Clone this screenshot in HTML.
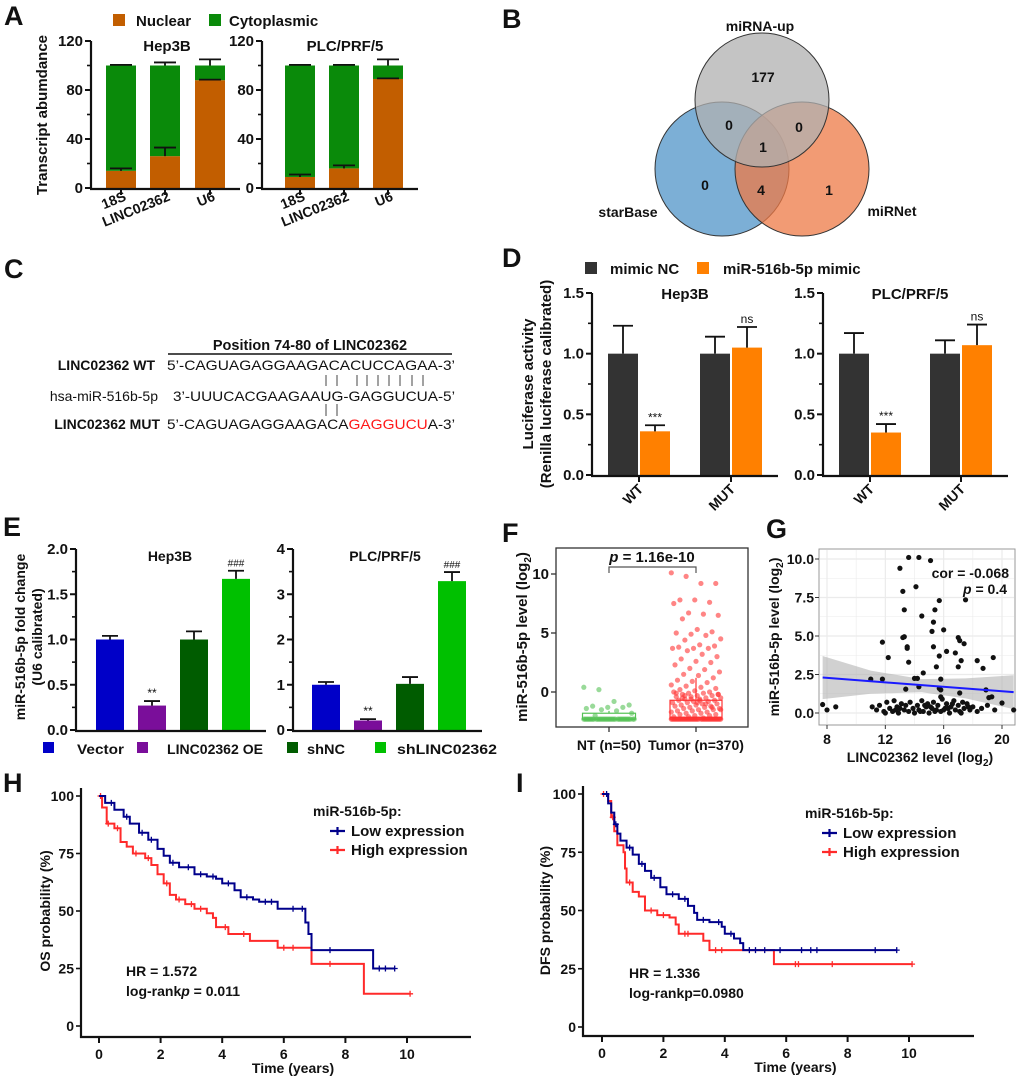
<!DOCTYPE html>
<html><head><meta charset="utf-8"><style>
html,body{margin:0;padding:0;background:#fff;}
svg{display:block;font-family:"Liberation Sans",Arial,sans-serif;}
text{font-weight:bold;fill:#111;}
</style></head><body>
<svg id="fig" width="1020" height="1077" viewBox="0 0 1020 1077">
<g font-size="27">
<text x="4" y="25">A</text>
<text x="502" y="28">B</text>
<text x="4" y="278">C</text>
<text x="502" y="267">D</text>
<text x="3" y="536">E</text>
<text x="502" y="542">F</text>
<text x="766" y="538">G</text>
<text x="3" y="792">H</text>
<text x="516" y="792">I</text>
</g>
<g stroke="#333" stroke-width="1">
<circle cx="722" cy="169" r="67" fill="#5b9bcc" fill-opacity="0.8"/>
<circle cx="802" cy="169" r="67" fill="#ee7a45" fill-opacity="0.75"/>
<circle cx="762" cy="100" r="67" fill="#b0b0b0" fill-opacity="0.75"/>
</g>
<g font-size="14" text-anchor="middle">
<text x="760" y="31">miRNA-up</text>
<text x="628" y="217">starBase</text>
<text x="892" y="216">miRNet</text>
<text x="763" y="82">177</text>
<text x="729" y="130">0</text>
<text x="799" y="132">0</text>
<text x="763" y="152">1</text>
<text x="705" y="190">0</text>
<text x="761" y="195">4</text>
<text x="829" y="195">1</text>
</g>
<g font-size="14">
<text x="310" y="350" text-anchor="middle" font-size="14.5">Position 74-80 of LINC02362</text>
<line x1="168" y1="354" x2="452" y2="354" stroke="#111" stroke-width="1.5"/>
<text x="155" y="370" text-anchor="end">LINC02362 WT</text>
<text x="158" y="401" text-anchor="end" style="font-weight:normal">hsa-miR-516b-5p</text>
<text x="160" y="429" text-anchor="end">LINC02362 MUT</text>
<text x="167" y="370" textLength="288" lengthAdjust="spacingAndGlyphs" style="font-weight:normal">5’-CAGUAGAGGAAGACACUCCAGAA-3’</text>
<text x="173" y="401" textLength="282" lengthAdjust="spacingAndGlyphs" style="font-weight:normal">3’-UUUCACGAAGAAUG-GAGGUCUA-5’</text>
<text x="167" y="429" textLength="288" lengthAdjust="spacingAndGlyphs" style="font-weight:normal">5’-CAGUAGAGGAAGACA<tspan style="fill:#ff1a1a">GAGGUCU</tspan>A-3’</text>
<g stroke="#444" stroke-width="1">
<path d="M326 375V386M337 375V386M357 375V386M367 375V386M378 375V386M389 375V386M400 375V386M412 375V386M423 375V386M326 404V416M337 404V416"/>
</g>
</g>
<g id="charts"></g>
</svg>
<script>
const aCats=['18S','LINC02362','U6'];
const aHepNuc=[14,26,88];
const aHepNucErr=[2,7,0.5];
const aHepTotErr=[0.5,2.5,5];
const aPlcNuc=[9,16,89];
const aPlcNucErr=[2,2.5,0.5];
const aPlcTotErr=[0.5,0.5,5];
const aTicks=[0,40,80,120];

const dGroups=['WT','MUT'];
const dHepNC=[1.0,1.0];
const dHepNCErr=[0.23,0.14];
const dHepMimic=[0.36,1.05];
const dHepMimicErr=[0.05,0.17];
const dPlcNC=[1.0,1.0];
const dPlcNCErr=[0.17,0.11];
const dPlcMimic=[0.35,1.07];
const dPlcMimicErr=[0.07,0.17];
const dSig=['***','ns'];
const dTicks=[0,0.5,1.0,1.5];
const dTickLabels=['0.0','0.5','1.0','1.5'];

const eCats=['Vector','LINC02362 OE','shNC','shLINC02362'];
const eColors=['#0000c8','#7a0e9a','#005c00','#00c000'];
const eHep=[1.0,0.27,1.0,1.67];
const eHepErr=[0.04,0.05,0.09,0.09];
const ePlc=[1.0,0.21,1.02,3.29];
const ePlcErr=[0.06,0.03,0.15,0.2];
const eSig=['','**','','###'];
const eHepTicks=[0,0.5,1.0,1.5,2.0];
const eHepTickLabels=['0.0','0.5','1.0','1.5','2.0'];
const ePlcTicks=[0,1,2,3,4];

const fGroups=['NT (n=50)','Tumor (n=370)'];
const fNT=[0.4,0.2,-0.8,-1.1,-1.2,-1.3,-1.3,-1.4,-1.5,-1.6,-1.8,-2.0,-2.3,-2.3,-2.3,-2.3,-2.3,-2.3,-2.3,-2.3,-2.3,-2.3,-2.3,-2.3,-2.3,-2.3,-2.3,-2.3,-2.3,-2.3,-2.3,-2.3,-2.3,-2.3,-2.3,-2.3,-2.3,-2.3,-2.3,-2.3,-2.3,-2.3,-2.3,-2.3,-2.3,-2.3,-2.3,-2.3,-2.3,-2.3];
const fTumor=[10.1,9.8,9.2,9.2,7.8,7.8,7.6,7.5,6.7,6.6,6.5,6.2,5.3,5.1,5.0,4.9,4.8,4.5,4.4,4.0,3.9,3.8,3.7,3.7,3.7,3.5,3.2,3.0,2.8,2.6,2.5,2.3,2.0,1.9,1.7,1.5,1.4,1.2,1.0,0.9,0.8,0.6,0.5,0.4,0.3,0.2,0.1,0.0,0.0,-0.1,-0.1,-0.2,-0.2,-0.3,-0.3,-0.4,-0.4,-0.5,-0.5,-0.6,-0.6,-0.7,-0.7,-0.8,-0.8,-0.9,-0.9,-1.0,-1.0,-1.1,-1.1,-1.2,-1.2,-1.3,-1.3,-1.4,-1.4,-1.5,-1.5,-1.6,-1.6,-1.7,-1.7,-1.8,-1.8,-1.9,-1.9,-2.0,-2.0,-2.1,-2.1,-2.2,-0.2,-0.5,-0.9,-1.3,-0.1,-0.6,-1.0,-1.5,-0.3,-0.7,-2.3,-2.3,-2.3,-2.3,-2.3,-2.3,-2.3,-2.3,-2.3,-2.3,-2.3,-2.3,-2.3,-2.3,-2.3,-2.3,-2.3,-2.3,-2.3,-2.3,-2.3,-2.3,-2.3,-2.3,-2.3,-2.3,-2.3,-2.3,-2.3,-2.3,-2.3,-2.3,-2.3,-2.3,-2.3,-2.3,-2.3,-2.3,-2.3,-2.3];
const fBoxQ1=[-2.3,-2.3];
const fBoxMed=[-2.3,-2.15];
const fBoxQ3=[-1.8,-0.7];
const fBoxHi=[-1.6,1.2];
const fTicks=[0,5,10];

const gX=[13.6,14.3,15.1,13.0,13.2,14.1,15.7,17.5,13.3,14.5,15.4,15.3,16.0,15.2,13.2,13.3,17.0,17.1,17.4,11.8,13.5,13.5,15.3,16.2,15.7,16.8,17.2,12.2,13.6,18.3,19.4,15.5,17.0,18.7,14.6,11.0,11.8,14.0,14.2,15.8,13.4,14.3,15.7,15.8,15.8,17.1,18.9,19.1,19.3,20.0,7.7,8.0,8.6,20.8,11.1,11.4,11.6,11.9,12.1,12.3,12.5,12.6,12.8,12.9,13.1,13.3,13.4,13.6,13.7,13.9,14.0,14.2,14.3,14.5,14.6,14.8,14.9,15.0,15.2,15.3,15.5,15.6,15.8,15.9,16.1,16.2,16.4,16.5,16.7,16.8,17.0,17.1,17.3,17.4,17.6,17.8,18.0,18.3,18.6,19.0,19.5,12.0,13.0,14.4,15.1,16.0,16.6,17.2,12.7,14.7,15.4,16.3,17.7];
const gY=[10.1,10.1,9.9,9.4,7.9,8.2,7.3,7.35,6.7,6.3,6.7,5.9,5.4,5.3,4.9,4.95,4.9,4.7,4.5,4.6,4.3,4.2,4.3,4.0,3.7,3.9,3.4,3.6,3.3,3.4,3.6,3.0,3.0,2.9,2.6,2.2,2.2,2.25,2.25,2.2,1.55,1.7,1.6,1.5,1.05,1.3,1.5,1.0,1.05,0.65,0.55,0.2,0.4,0.2,0.4,0.2,0.5,0.1,0.7,0.3,0.1,0.8,0.4,0.0,0.6,0.2,0.5,0.1,0.7,0.3,0.0,0.5,0.2,0.8,0.1,0.4,0.6,0.0,0.3,0.7,0.2,0.5,0.1,0.9,0.3,0.6,0.0,0.4,0.8,0.2,0.5,0.1,0.7,0.3,0.6,0.2,0.4,0.1,0.3,0.5,0.2,0.0,0.3,0.1,0.4,0.2,0.6,0.0,0.2,0.5,0.1,0.3,0.4];
const gFit=[2.86,-0.0725];
const gCiX=[7.7,11,14.5,17.5,20.8];
const gCiLo=[0.9,1.25,1.35,0.95,0.25];
const gCiHi=[3.7,2.75,2.2,2.25,2.45];
const gXTicks=[8,12,16,20];
const gYTicks=[0,2.5,5,7.5,10];
const gYTickLabels=['0.0','2.5','5.0','7.5','10.0'];

const hLowT=[0,0.2,0.5,0.8,1.0,1.3,1.6,1.9,2.1,2.3,2.6,3.1,3.5,3.8,4.0,4.4,4.6,5.0,5.2,5.8,6.7,6.8,6.9,8.9,9.6];
const hLowS=[100,97,94,91,88,84,81,77,74,71,69,66,65,64,62,59,56,55,54,51,45,40,33,25,25];
const hHighT=[0,0.1,0.25,0.5,0.7,0.9,1.1,1.5,1.7,1.9,2.1,2.3,2.5,2.8,3.1,3.5,3.7,3.8,4.2,4.9,5.8,6.9,8.6,10.1];
const hHighS=[100,95,88,86,80,78,75,73,70,66,62,57,55,53,51,49,47,43,40,37,34,27,14,14];
const hLowCens=[0.4,0.9,1.4,1.7,2.4,2.9,3.3,3.7,4.2,4.8,5.4,5.6,6.3,6.6,7.5,9.1,9.3,9.6];
const hHighCens=[0.05,0.3,0.6,1.2,1.6,2.2,2.6,3.0,3.3,4.1,4.7,6.0,6.3,7.5,10.1];
const iLowT=[0,0.2,0.3,0.4,0.5,0.6,0.8,1.0,1.2,1.4,1.6,1.9,2.1,2.5,2.8,3.0,3.1,3.5,3.9,4.0,4.3,4.5,4.6,9.6];
const iLowS=[100,96,92,87,83,80,77,74,70,67,64,60,57,55,52,49,46,45,43,40,38,36,33,33];
const iHighT=[0,0.2,0.3,0.4,0.5,0.7,0.75,0.8,1.0,1.2,1.4,1.8,2.2,2.4,2.5,3.3,3.5,5.6,10.1];
const iHighS=[100,97,90,84,78,75,68,62,58,56,50,48,47,44,40,37,33,27,27];
const iLowCens=[0.15,0.45,0.9,1.3,1.7,2.3,2.7,3.3,3.8,4.2,4.8,5.0,5.3,5.8,6.5,6.8,7.0,8.9,9.6];
const iHighCens=[0.05,0.35,0.9,1.6,2.0,2.7,2.8,3.7,3.9,6.3,6.4,7.5,10.1];

const NS='http://www.w3.org/2000/svg';
const root=document.getElementById('charts');
function mk(tag,a,p){const e=document.createElementNS(NS,tag);for(const k in a)e.setAttribute(k,a[k]);(p||root).appendChild(e);return e;}
function txt(s,a,p){const e=mk('text',a,p);e.textContent=s;return e;}
function scale(d0,d1,r0,r1){return v=>r0+(v-d0)/(d1-d0)*(r1-r0);}
function grp(name){const g=mk('g',{});


return g;}
function yAxis(g,x,sy,ticks,labels,minorStep,fs){
  const ax=mk('line',{x1:x,x2:x,y1:sy(ticks[ticks.length-1]),y2:sy(ticks[0])+1,stroke:'#111','stroke-width':2.2},g);
  
  
  ticks.forEach((t,i)=>{
    const tk=mk('line',{x1:x-6,x2:x,y1:sy(t),y2:sy(t),stroke:'#111','stroke-width':2},g);
    
    
    const lb=txt(labels[i],{x:x-8,y:sy(t)+5,'text-anchor':'end','font-size':fs||15},g);
    
    
  });
  if(minorStep){for(let v=ticks[0]+minorStep;v<ticks[ticks.length-1];v+=minorStep){
    if(ticks.some(t=>Math.abs(t-v)<1e-6))continue;
    const m=mk('line',{x1:x-4,x2:x,y1:sy(v),y2:sy(v),stroke:'#111','stroke-width':1.6},g);
    
    
  }}
}
function xAxis(g,x0,x1,y){
  const ax=mk('line',{x1:x0-1,x2:x1,y1:y,y2:y,stroke:'#111','stroke-width':2.2},g);
  
  
}
function xTick(g,x,y){
  const t=mk('line',{x1:x,x2:x,y1:y,y2:y+6,stroke:'#111','stroke-width':2},g);
  
  
}
function errBar(g,x,yTop,yErr,w){
  const p=mk('path',{d:`M${x} ${yTop}V${yErr}M${x-w/2} ${yErr}H${x+w/2}`,stroke:'#111','stroke-width':1.8,fill:'none'},g);
  
  
}
function ylabel(g,s,x,y,fs){
  const t=txt(s,{x:x,y:y,'text-anchor':'middle','font-size':fs||14,transform:`rotate(-90 ${x} ${y})`},g);
  
  
  return t;
}

function panelA(name,axX,centers,title,titleX,nuc,nucErr,totErr,showYLabel){
  const g=grp(name);
  const sy=scale(0,120,188,41);
  centers.forEach((c,i)=>{
    const b1=mk('rect',{x:c-15,y:sy(nuc[i]),width:30,height:sy(0)-sy(nuc[i]),fill:'#c25e00'},g);
    
    
    const b2=mk('rect',{x:c-15,y:sy(100),width:30,height:sy(nuc[i])-sy(100),fill:'#0a8a0a'},g);
    
    
    errBar(g,c,sy(nuc[i]),sy(nuc[i]+nucErr[i]),22);
    errBar(g,c,sy(100),sy(100+totErr[i]),22);
    xTick(g,c,189);
    const lb=txt(aCats[i],{x:c+6,y:200,'text-anchor':'end','font-size':14,transform:`rotate(-22 ${c+6} 200)`},g);
    
    
  });
  yAxis(g,axX,sy,aTicks,aTicks.map(String),20,15);
  xAxis(g,axX,centers[2]+30,189);
  const t=txt(title,{x:titleX,y:51,'text-anchor':'middle','font-size':15},g);
  
  
  if(showYLabel)ylabel(g,'Transcript abumdance',47,115,15);
}
panelA('chart-a-hep3b',91,[121,165,210],'Hep3B',167,aHepNuc,aHepNucErr,aHepTotErr,true);
panelA('chart-a-plc',262,[300,344,388],'PLC/PRF/5',345,aPlcNuc,aPlcNucErr,aPlcTotErr,false);
{const g=grp('legend-a');
const s1=mk('rect',{x:113,y:14,width:12,height:12,fill:'#c25e00'},g);


const t1=txt('Nuclear',{x:136,y:26,'font-size':15},g);


const s2=mk('rect',{x:209,y:14,width:12,height:12,fill:'#0a8a0a'},g);


const t2=txt('Cytoplasmic',{x:229,y:26,'font-size':15},g);

}

function panelD(name,axX,centers,title,titleX,nc,ncE,mm,mmE,showY){
  const g=grp(name);
  const sy=scale(0,1.5,475,293);
  centers.forEach((c,i)=>{
    const b1=mk('rect',{x:c-31,y:sy(nc[i]),width:30,height:sy(0)-sy(nc[i]),fill:'#333333'},g);
    
    
    const b2=mk('rect',{x:c+1,y:sy(mm[i]),width:30,height:sy(0)-sy(mm[i]),fill:'#ff8000'},g);
    
    
    errBar(g,c-16,sy(nc[i]),sy(nc[i]+ncE[i]),20);
    errBar(g,c+16,sy(mm[i]),sy(mm[i]+mmE[i]),20);
    const s=txt(dSig[i],{x:c+16,y:sy(mm[i]+mmE[i])-4,'text-anchor':'middle','font-size':12,style:'font-weight:normal'},g);
    
    
    xTick(g,c,476);
    const lb=txt(dGroups[i],{x:c+5,y:490,'text-anchor':'end','font-size':14,transform:`rotate(-45 ${c+5} 490)`},g);
    
    
  });
  yAxis(g,axX,sy,dTicks,dTickLabels,0.25,15);
  xAxis(g,axX,centers[1]+47,476);
  const t=txt(title,{x:titleX,y:299,'text-anchor':'middle','font-size':15},g);
  
  
  if(showY){ylabel(g,'Luciferase activity',533,384,15);ylabel(g,'(Renilla luciferase calibrated)',551,384,15);}
}
panelD('chart-d-hep3b',592,[639,731],'Hep3B',685,dHepNC,dHepNCErr,dHepMimic,dHepMimicErr,true);
panelD('chart-d-plc',823,[870,961],'PLC/PRF/5',910,dPlcNC,dPlcNCErr,dPlcMimic,dPlcMimicErr,false);
{const g=grp('legend-d');
const s1=mk('rect',{x:585,y:262,width:12,height:12,fill:'#333'},g);


const t1=txt('mimic NC',{x:610,y:274,'font-size':15},g);


const s2=mk('rect',{x:697,y:262,width:12,height:12,fill:'#ff8000'},g);


const t2=txt('miR-516b-5p mimic',{x:723,y:274,'font-size':15},g);

}

function panelE(name,axX,centers,vals,errs,ticks,labels,max,minor,title,titleX,showY){
  const g=grp(name);
  const sy=scale(0,max,730,549);
  centers.forEach((c,i)=>{
    const b=mk('rect',{x:c-14,y:sy(vals[i]),width:28,height:sy(0)-sy(vals[i]),fill:eColors[i]},g);
    
    
    errBar(g,c,sy(vals[i]),sy(vals[i]+errs[i]),16);
    if(eSig[i]){const s=txt(eSig[i],{x:c,y:sy(vals[i]+errs[i])-4,'text-anchor':'middle','font-size':eSig[i]=='###'?10:12,style:'font-weight:normal'},g);
    
    }
  });
  yAxis(g,axX,sy,ticks,labels,minor,15);
  xAxis(g,axX,centers[3]+30,731);
  const t=txt(title,{x:titleX,y:561,'text-anchor':'middle','font-size':14},g);
  
  
  if(showY){ylabel(g,'miR-516b-5p fold change',25,637,14);ylabel(g,'(U6 calibrated)',42,637,14);}
}
panelE('chart-e-hep3b',76,[110,152,194,236],eHep,eHepErr,eHepTicks,eHepTickLabels,2,0.25,'Hep3B',170,true);
panelE('chart-e-plc',293,[326,368,410,452],ePlc,ePlcErr,ePlcTicks,ePlcTicks.map(String),4,0.5,'PLC/PRF/5',385,false);
{const g=grp('legend-e');
const lx=[43,137,287,375];
const tx=[77,167,307,397];
const tw=[47,96,38,100];
eCats.forEach((c,i)=>{
  const s=mk('rect',{x:lx[i],y:742,width:11,height:11,fill:eColors[i]},g);
  
  
  const t=txt(c,{x:tx[i],y:754,'font-size':14,textLength:tw[i],lengthAdjust:'spacingAndGlyphs'},g);
  
  
});}

{const g=grp('chart-f-boxplot');
const sy=scale(0,10,692,574);
const cx=[609,696];
const bw=[53,52];
const frame=mk('rect',{x:556,y:548,width:192,height:179,fill:'none',stroke:'#333','stroke-width':1.3},g);


const series=[fNT,fTumor];const cols=['#55c255','#ff3333'];
series.forEach((vals,k)=>{
  vals.forEach((v,i)=>{
    const off=(((i*53)%41)/40-0.5)*bw[k]*0.95;
    const p=mk('circle',{cx:cx[k]+off,cy:sy(v),r:2.6,fill:cols[k],'fill-opacity':0.6},g);
    
    
  });
  const bx=mk('rect',{x:cx[k]-bw[k]/2,y:sy(fBoxQ3[k]),width:bw[k],height:sy(fBoxQ1[k])-sy(fBoxQ3[k]),fill:'none',stroke:cols[k],'stroke-width':1.2},g);
  
  
  const md=mk('line',{x1:cx[k]-bw[k]/2,x2:cx[k]+bw[k]/2,y1:sy(fBoxMed[k]),y2:sy(fBoxMed[k]),stroke:cols[k],'stroke-width':1.5},g);
  
  
  const wk=mk('line',{x1:cx[k],x2:cx[k],y1:sy(fBoxQ3[k]),y2:sy(fBoxHi[k]),stroke:cols[k],'stroke-width':1.2},g);
  
  
  const tk=mk('line',{x1:cx[k],x2:cx[k],y1:727,y2:732,stroke:'#333','stroke-width':1.3},g);
  
  
  const lb=txt(fGroups[k],{x:cx[k],y:750,'text-anchor':'middle','font-size':14},g);
  
  
});
fTicks.forEach(t=>{
  const tk=mk('line',{x1:551,x2:556,y1:sy(t),y2:sy(t),stroke:'#333','stroke-width':1.3},g);
  
  
  const lb=txt(String(t),{x:549,y:sy(t)+5,'text-anchor':'end','font-size':15},g);
  
  
});
const br=mk('path',{d:`M${cx[0]} 573V567H${cx[1]}V573`,stroke:'#555','stroke-width':1.2,fill:'none'},g);


const pt=txt('',{x:652,y:562,'text-anchor':'middle','font-size':15},g);
pt.innerHTML='<tspan font-style="italic">p</tspan> = 1.16e-10';


const yl=ylabel(g,'',527,637,15);
yl.innerHTML='miR-516b-5p  level (log<tspan font-size="10" dy="4">2</tspan><tspan dy="-4">)</tspan>';
}

{const g=grp('chart-g-scatter');
const sx=scale(8,20,827,1002),sy=scale(0,10,713,559);
const bg=mk('rect',{x:819,y:549,width:196,height:176,fill:'#fff',stroke:'#999','stroke-width':1},g);


for(let v=8;v<=20;v+=2){const l=mk('line',{x1:sx(v),x2:sx(v),y1:550,y2:724,stroke:'#ebebeb','stroke-width':v%4==0?1.2:0.6},g);

}
for(let v=0;v<=10;v+=1.25){const l=mk('line',{x1:820,x2:1014,y1:sy(v),y2:sy(v),stroke:'#ebebeb','stroke-width':(v*4)%10==0?1.2:0.6},g);

}
let d='M'+gCiX.map((x,i)=>sx(x)+' '+sy(gCiHi[i])).join('L');
for(let i=gCiX.length-1;i>=0;i--)d+='L'+sx(gCiX[i])+' '+sy(gCiLo[i]);
const ci=mk('path',{d:d+'Z',fill:'#b3b3b3','fill-opacity':0.6},g);


gX.forEach((x,i)=>{
  const p=mk('circle',{cx:sx(x),cy:sy(gY[i]),r:2.6,fill:'#111'},g);
  
  
});
const x0=7.7,x1=20.8;
const tl=mk('line',{x1:sx(x0),x2:sx(x1),y1:sy(gFit[0]+gFit[1]*x0),y2:sy(gFit[0]+gFit[1]*x1),stroke:'#1a1aff','stroke-width':2},g);


gXTicks.forEach(t=>{
  const tk=mk('line',{x1:sx(t),x2:sx(t),y1:725,y2:729,stroke:'#333'},g);
  
  
  const lb=txt(String(t),{x:sx(t),y:744,'text-anchor':'middle','font-size':14},g);
  
  
});
gYTicks.forEach((t,i)=>{
  const tk=mk('line',{x1:815,x2:819,y1:sy(t),y2:sy(t),stroke:'#333'},g);
  
  
  const lb=txt(gYTickLabels[i],{x:814,y:sy(t)+5,'text-anchor':'end','font-size':14},g);
  
  
});
const c1=txt('cor = -0.068',{x:1009,y:578,'text-anchor':'end','font-size':14},g);


const c2=txt('',{x:1007,y:594,'text-anchor':'end','font-size':14},g);
c2.innerHTML='<tspan font-style="italic">p</tspan> = 0.4';


const xl=txt('',{x:920,y:762,'text-anchor':'middle','font-size':14},g);
xl.innerHTML='LINC02362 level (log<tspan font-size="10" dy="4">2</tspan><tspan dy="-4">)</tspan>';


const yl=ylabel(g,'',779,637,14);
yl.innerHTML='miR-516b-5p level (log<tspan font-size="10" dy="4">2</tspan><tspan dy="-4">)</tspan>';
}

function km(name,cfg){
  const g=grp(name);
  const sx=scale(0,10,cfg.x0,cfg.x10),sy=scale(0,100,cfg.y0,cfg.y100);
  const ya=mk('line',{x1:cfg.axL,x2:cfg.axL,y1:cfg.y100-8,y2:cfg.axB+1,stroke:'#111','stroke-width':2.2},g);
  
  
  xAxis(g,cfg.axL,cfg.axR,cfg.axB);
  [0,25,50,75,100].forEach(t=>{
    const tk=mk('line',{x1:cfg.axL-5,x2:cfg.axL,y1:sy(t),y2:sy(t),stroke:'#111','stroke-width':1.6},g);
    
    
    const lb=txt(String(t),{x:cfg.axL-7,y:sy(t)+5,'text-anchor':'end','font-size':14},g);
    
    
  });
  [0,2,4,6,8,10].forEach(t=>{
    xTick(g,sx(t),cfg.axB);
    const lb=txt(String(t),{x:sx(t),y:cfg.axB+22,'text-anchor':'middle','font-size':14},g);
    
    
  });
  const xt=txt('Time (years)',{x:sx(6.3),y:cfg.axB+36,'text-anchor':'middle','font-size':14},g);
  
  
  ylabel(g,cfg.ylab,cfg.ylx,(cfg.y0+cfg.y100)/2,14);
  const series=[[cfg.hT,cfg.hS,cfg.hC,'#ff2a2a','high-expression'],[cfg.lT,cfg.lS,cfg.lC,'#00008b','low-expression']];
  series.forEach(([T,S,C,col,nm])=>{
    let d=`M${sx(T[0])} ${sy(S[0])}`;
    for(let i=1;i<T.length;i++)d+=`H${sx(T[i])}V${sy(S[i])}`;
    const p=mk('path',{d:d,stroke:col,'stroke-width':2,fill:'none'},g);
    
    
    C.forEach(c=>{
      let s=S[0];for(let i=0;i<T.length;i++){if(T[i]<=c)s=S[i];}
      const m=mk('path',{d:`M${sx(c)-3} ${sy(s)}H${sx(c)+3}M${sx(c)} ${sy(s)-3}V${sy(s)+3}`,stroke:col,'stroke-width':1.3},g);
      
      
    });
  });
  const lt=txt('miR-516b-5p:',{x:cfg.legX,y:cfg.legY,'font-size':14},g);
  
  
  [['Low expression','#00008b'],['High expression','#ff2a2a']].forEach(([s,c],i)=>{
    const y=cfg.legY+20+i*19;
    const l=mk('path',{d:`M${cfg.legX+17} ${y-5}H${cfg.legX+32}M${cfg.legX+24.5} ${y-9}V${y-1}`,stroke:c,'stroke-width':2.2},g);
    
    
    const t=txt(s,{x:cfg.legX+38,y:y,'font-size':15},g);
    
    
  });
  const hr=txt(cfg.hr,{x:cfg.hrX,y:cfg.hrY,'font-size':14},g);
  
  
  const lr=txt('',{x:cfg.hrX,y:cfg.hrY+20,'font-size':14},g);
  lr.innerHTML=cfg.lr;
  
  
}
km('chart-h-os',{x0:99,x10:407,y0:1026,y100:796,axL:81,axR:471,axB:1037,ylab:'OS probability (%)',ylx:50,
  lT:hLowT,lS:hLowS,lC:hLowCens,hT:hHighT,hS:hHighS,hC:hHighCens,legX:313,legY:816,hr:'HR = 1.572',lr:'log-rank<tspan font-style="italic">p</tspan> = 0.011',hrX:126,hrY:976});
km('chart-i-dfs',{x0:602,x10:909,y0:1027,y100:794,axL:583,axR:974,axB:1036,ylab:'DFS probability (%)',ylx:550,
  lT:iLowT,lS:iLowS,lC:iLowCens,hT:iHighT,hS:iHighS,hC:iHighCens,legX:805,legY:818,hr:'HR = 1.336',lr:'log-rankp=0.0980',hrX:629,hrY:978});
</script>
</body></html>
